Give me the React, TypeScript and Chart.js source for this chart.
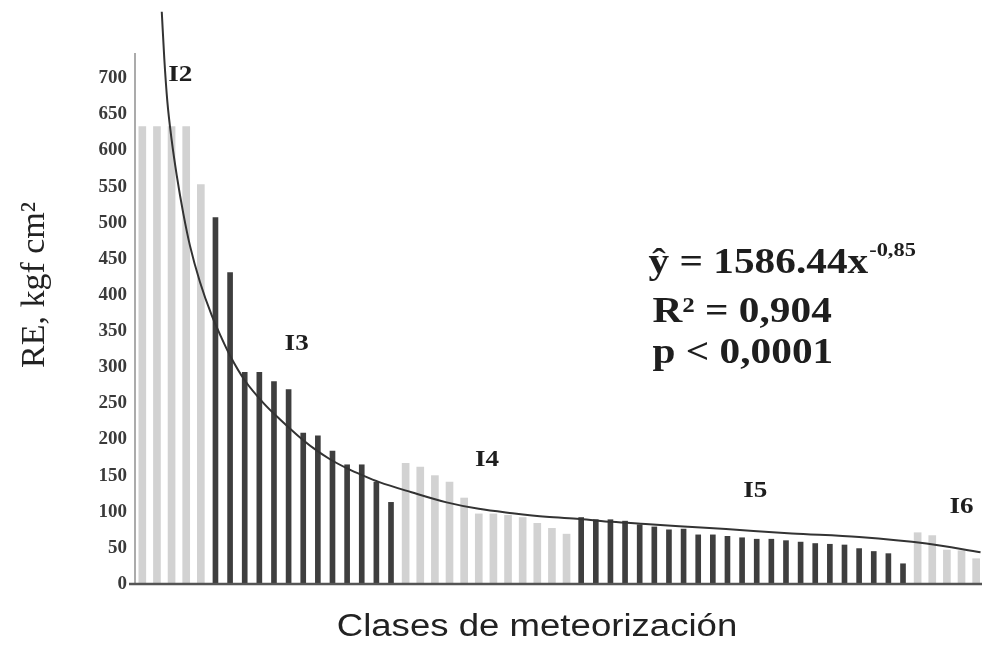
import React, { useEffect, useRef } from 'react';
import { Chart, registerables } from 'chart.js';

Chart.register(...registerables);

// ---- data ----
const classLabels = ['I2', 'I3', 'I4', 'I5', 'I6'];
const classShades = ['light', 'dark', 'light', 'dark', 'light'];
const i2Values = [633, 633, 633, 633, 553];
const i3Values = [507, 431, 293, 293, 280, 269, 209, 205, 184, 165, 165, 141, 113];
const i4Values = [167, 162, 150, 141, 119, 97, 97, 95, 92, 84, 77, 69];
const i5Values = [92, 89, 89, 87, 82, 79, 75, 76, 68, 68, 66, 64, 62, 62, 60, 58, 56, 55, 54, 49, 45, 42, 28];
const i6Values = [71, 67, 47, 46, 35];
const classValues = [i2Values, i3Values, i4Values, i5Values, i6Values];

const yTickValues = [0, 50, 100, 150, 200, 250, 300, 350, 400, 450, 500, 550, 600, 650, 700];

// fitted power curve (sample index, RE)
const curveIdx = [2.33, 2.5, 2.71, 3.01, 3.35, 3.8, 4.26, 4.94, 5.74, 6.43, 7.0, 8.0, 9.3, 10.4, 11.6, 12.7, 13.8, 15.0, 16.1, 17.2, 19.4, 21.8, 24.0, 26.3, 28.6, 30.9, 33.1, 35.4, 37.7, 40.9, 45.4, 50.0, 54.6, 58.3];
const curveVal = [792, 728, 668, 614, 566, 513, 468, 418, 372, 340, 316, 282, 250, 228, 206, 188, 173, 160, 150, 141, 127, 113, 104, 98, 93, 90, 86, 83, 80, 76, 70, 65, 56, 44];

const eqMain = 'ŷ = 1586.44x';
const eqExp = '-0,85';
const eqR2 = 'R² = 0,904';
const eqP = 'p < 0,0001';
const yTitle = 'RE, kgf cm²';
const xTitle = 'Clases de meteorización';

// ---- annotation anchors (data coordinates) ----
const classLabelAnchors = [
  { x: 3.6, y: 705 },
  { x: 11.55, y: 332 },
  { x: 24.56, y: 171 },
  { x: 42.9, y: 128 },
  { x: 57.0, y: 106 },
];
const eqAnchor = { x: 35.6, y1: 430, y2: 362, y3: 306 };

const LIGHT = '#d2d2d2';
const DARK = '#3e3e3e';
const STRETCH = 1.18;

function buildBars() {
  const light: { x: number; y: number }[] = [];
  const dark: { x: number; y: number }[] = [];
  let idx = 1;
  classValues.forEach((vals, c) => {
    vals.forEach((v) => {
      (classShades[c] === 'light' ? light : dark).push({ x: idx, y: v });
      idx += 1;
    });
  });
  return { light, dark, count: idx - 1 };
}

// draw text stretched horizontally; returns drawn width
function wideText(ctx: CanvasRenderingContext2D, text: string, x: number, y: number, align: 'left' | 'center') {
  const w = ctx.measureText(text).width * STRETCH;
  const startX = align === 'center' ? x - w / 2 : x;
  ctx.save();
  ctx.textAlign = 'left';
  ctx.translate(startX, y);
  ctx.scale(STRETCH, 1);
  ctx.fillText(text, 0, 0);
  ctx.restore();
  return w;
}

const overlayPlugin = {
  id: 'overlay',
  afterDatasetsDraw(chart: any) {
    const { ctx, chartArea, scales } = chart;
    const xs = scales.x;
    const ys = scales.y;
    ctx.save();
    // y axis line
    ctx.strokeStyle = '#8f8f8f';
    ctx.lineWidth = 1.5;
    ctx.beginPath();
    ctx.moveTo(chartArea.left, ys.getPixelForValue(0));
    ctx.lineTo(chartArea.left, ys.getPixelForValue(735));
    ctx.stroke();
    // x axis line
    ctx.strokeStyle = '#555';
    ctx.lineWidth = 2.5;
    ctx.beginPath();
    ctx.moveTo(chartArea.left - 6, ys.getPixelForValue(0));
    ctx.lineTo(chartArea.right, ys.getPixelForValue(0));
    ctx.stroke();

    // class labels
    ctx.fillStyle = '#1e1e1e';
    ctx.font = 'bold 23px "Liberation Serif", serif';
    ctx.textBaseline = 'middle';
    classLabels.forEach((lab, i) => {
      const a = classLabelAnchors[i];
      wideText(ctx, lab, xs.getPixelForValue(a.x), ys.getPixelForValue(a.y), 'center');
    });

    // equation
    ctx.textBaseline = 'alphabetic';
    const ex = xs.getPixelForValue(eqAnchor.x);
    ctx.font = 'bold 35px "Liberation Serif", serif';
    const w = wideText(ctx, eqMain, ex, ys.getPixelForValue(eqAnchor.y1), 'left');
    ctx.font = 'bold 19px "Liberation Serif", serif';
    wideText(ctx, eqExp, ex + w + 1, ys.getPixelForValue(eqAnchor.y1) - 17, 'left');
    ctx.font = 'bold 35px "Liberation Serif", serif';
    wideText(ctx, eqR2, ex + 4, ys.getPixelForValue(eqAnchor.y2), 'left');
    wideText(ctx, eqP, ex + 4, ys.getPixelForValue(eqAnchor.y3), 'left');

    // axis titles
    ctx.fillStyle = '#222';
    ctx.font = '31px "Liberation Sans", Arial, sans-serif';
    ctx.textBaseline = 'middle';
    wideText(ctx, xTitle, 537, 627, 'center');

    ctx.translate(35, 285);
    ctx.rotate(-Math.PI / 2);
    ctx.font = '34px "Liberation Serif", serif';
    ctx.textAlign = 'center';
    ctx.fillText(yTitle, 0, 0);
    ctx.restore();
  },
};

export default function App() {
  const ref = useRef<HTMLCanvasElement | null>(null);

  useEffect(() => {
    if (!ref.current) return;
    const { light, dark } = buildBars();
    const curve = curveIdx.map((x, i) => ({ x, y: curveVal[i] }));
    const chart = new Chart(ref.current, {
      type: 'bar',
      data: {
        datasets: [
          {
            type: 'line',
            data: curve,
            borderColor: '#333',
            borderWidth: 2,
            pointRadius: 0,
            cubicInterpolationMode: 'monotone',
            fill: false,
            order: 0,
          } as any,
          {
            type: 'bar',
            data: light,
            backgroundColor: LIGHT,
            barThickness: 7,
            grouped: false,
            order: 1,
          } as any,
          {
            type: 'bar',
            data: dark,
            backgroundColor: DARK,
            barThickness: 5,
            grouped: false,
            order: 1,
          } as any,
        ],
      },
      options: {
        animation: false,
        responsive: true,
        maintainAspectRatio: false,
        layout: { padding: { top: 6, bottom: 61, left: 0, right: 0 } },
        plugins: { legend: { display: false }, tooltip: { enabled: false } },
        scales: {
          x: {
            type: 'linear',
            min: 0.5,
            max: 58.4,
            offset: false,
            display: false,
          },
          y: {
            type: 'linear',
            min: 0,
            max: 800,
            grid: { display: false, drawTicks: false },
            border: { display: false },
            ticks: {
              padding: 8,
              color: '#3a3a3a',
              font: { family: '"Liberation Serif", serif', weight: 'bold', size: 19 },
            },
            afterBuildTicks: (s: any) => {
              s.ticks = yTickValues.map((v) => ({ value: v }));
            },
            afterFit: (s: any) => {
              s.width = 135;
              s.paddingTop = 0;
              s.paddingBottom = 0;
            },
          },
        },
      },
      plugins: [overlayPlugin],
    });
    return () => chart.destroy();
  }, []);

  return (
    <div style={{ position: 'fixed', left: 0, top: 0, width: 982, height: 645, background: '#fff' }}>
      <canvas ref={ref} />
    </div>
  );
}
